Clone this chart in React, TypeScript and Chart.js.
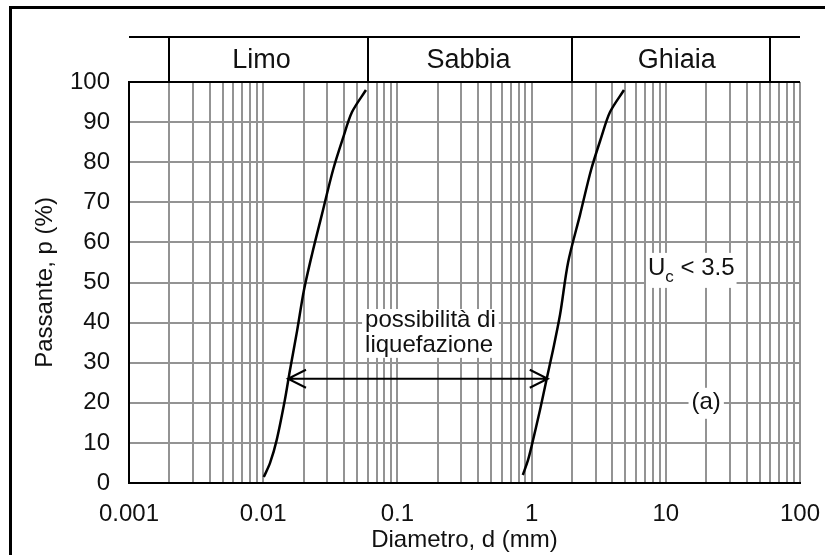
import React, { useEffect, useRef } from 'react';
import { Chart, registerables } from 'chart.js';

Chart.register(...registerables);

const FONT = "'Liberation Sans', Arial, Helvetica, sans-serif";

// Grain-size curves: diameter (mm) and percent passing
const curveA_d = [0.0101, 0.01125, 0.0126, 0.0145, 0.0158, 0.0179, 0.0201, 0.0231, 0.0274, 0.0331, 0.0393, 0.0459, 0.0583];
const curveA_p = [1.5, 5, 10.7, 20.7, 28, 38, 48, 57, 67, 78, 86, 92.5, 98];
const curveB_d = [0.86, 0.94, 1.0, 1.155, 1.29, 1.44, 1.63, 1.87, 2.3, 2.77, 3.29, 3.84, 4.88];
const curveB_p = [2, 5.7, 9.2, 18.2, 25.7, 33, 42, 55, 67, 78, 86, 92.5, 98];

// Axis ticks
const xDecades = [0.001, 0.01, 0.1, 1, 10, 100];
const xDecadeLabels = ['0.001', '0.01', '0.1', '1', '10', '100'];
const xMultipliers = [1, 2, 3, 4, 5, 6, 7, 8, 9];
const yMin = 0;
const yMax = 100;
const yStep = 10;

// Soil class band
const bandEdges = [0.002, 0.06, 2, 60];
const bandNames = ['Limo', 'Sabbia', 'Ghiaia'];
const bandLabelAt = [0.0097, 0.339, 12.05];

// Arrow (liquefaction range)
const arrowP = 26;
const arrowFrom = 0.0153;
const arrowTo = 1.32;

// Annotations
const liqLines = ['possibilità di', 'liquefazione'];
const liqAt = { d: 0.0574, p: [38.9, 32.7] };
const ucMain = 'U';
const ucSub = 'c';
const ucRest = ' < 3.5';
const ucAt = { d: 7.37, p: 51.9 };
const aLabel = '(a)';
const aAt = { d: 20, p: 20 };

const xTitle = 'Diametro, d (mm)';
const yTitle = 'Passante, p (%)';

const overlay = {
  id: 'overlay',
  afterDraw(chart: any) {
    const { ctx, chartArea: ca, scales } = chart;
    const x = scales.x;
    const y = scales.y;
    ctx.save();

    // Band box
    const bandTop = ca.top - 45;
    ctx.strokeStyle = '#000';
    ctx.lineWidth = 2;
    ctx.beginPath();
    ctx.moveTo(ca.left, bandTop);
    ctx.lineTo(ca.right, bandTop);
    ctx.moveTo(ca.left, ca.top);
    ctx.lineTo(ca.right, ca.top);
    bandEdges.forEach((e) => {
      const px = Math.round(x.getPixelForValue(e));
      ctx.moveTo(px, bandTop);
      ctx.lineTo(px, ca.top);
    });
    ctx.stroke();
    ctx.fillStyle = '#111';
    ctx.font = `27px ${FONT}`;
    ctx.textAlign = 'center';
    ctx.textBaseline = 'middle';
    bandNames.forEach((n, i) => {
      ctx.fillText(n, x.getPixelForValue(bandLabelAt[i]), (bandTop + ca.top) / 2 + 1);
    });

    // Arrow
    const ay = y.getPixelForValue(arrowP);
    const ax1 = x.getPixelForValue(arrowFrom);
    const ax2 = x.getPixelForValue(arrowTo);
    ctx.lineWidth = 2;
    ctx.beginPath();
    ctx.moveTo(ax1, ay);
    ctx.lineTo(ax2, ay);
    ctx.moveTo(ax1 + 18, ay - 9);
    ctx.lineTo(ax1, ay);
    ctx.lineTo(ax1 + 18, ay + 9);
    ctx.moveTo(ax2 - 18, ay - 9);
    ctx.lineTo(ax2, ay);
    ctx.lineTo(ax2 - 18, ay + 9);
    ctx.stroke();

    // Liquefaction text
    ctx.font = `24px ${FONT}`;
    ctx.textAlign = 'left';
    ctx.textBaseline = 'alphabetic';
    const lx = x.getPixelForValue(liqAt.d);
    const ly1 = y.getPixelForValue(liqAt.p[0]);
    const ly2 = y.getPixelForValue(liqAt.p[1]);
    const lw = Math.max(...liqLines.map((s) => ctx.measureText(s).width));
    ctx.fillStyle = '#fff';
    ctx.fillRect(lx - 3, ly1 - 18, lw + 6, ly2 - ly1 + 24);
    ctx.fillStyle = '#111';
    ctx.fillText(liqLines[0], lx, ly1);
    ctx.fillText(liqLines[1], lx, ly2);

    // Uc < 3.5
    const ux = x.getPixelForValue(ucAt.d);
    const uy = y.getPixelForValue(ucAt.p);
    ctx.font = `24px ${FONT}`;
    const wU = ctx.measureText(ucMain).width;
    ctx.font = `17px ${FONT}`;
    const wC = ctx.measureText(ucSub).width;
    ctx.font = `24px ${FONT}`;
    const wR = ctx.measureText(ucRest).width;
    ctx.fillStyle = '#fff';
    ctx.fillRect(ux - 2, uy - 22, wU + wC + wR + 4, 35);
    ctx.fillStyle = '#111';
    ctx.fillText(ucMain, ux, uy);
    ctx.font = `17px ${FONT}`;
    ctx.fillText(ucSub, ux + wU, uy + 7);
    ctx.font = `24px ${FONT}`;
    ctx.fillText(ucRest, ux + wU + wC, uy);

    // (a)
    const axp = x.getPixelForValue(aAt.d);
    const ayp = y.getPixelForValue(aAt.p);
    const wa = ctx.measureText(aLabel).width;
    ctx.fillStyle = '#fff';
    ctx.fillRect(axp - wa / 2 - 3, ayp - 15, wa + 6, 31);
    ctx.fillStyle = '#111';
    ctx.textAlign = 'center';
    ctx.textBaseline = 'middle';
    ctx.fillText(aLabel, axp, ayp);

    // Outer frame
    ctx.strokeStyle = '#000';
    ctx.lineWidth = 3;
    ctx.beginPath();
    ctx.moveTo(10.5, chart.height);
    ctx.lineTo(10.5, 7.5);
    ctx.lineTo(chart.width, 7.5);
    ctx.stroke();

    ctx.restore();
  },
};

export default function App() {
  const ref = useRef<HTMLCanvasElement>(null);
  useEffect(() => {
    const tickValues: number[] = [];
    xDecades.forEach((dec, i) => {
      if (i === xDecades.length - 1) {
        tickValues.push(dec);
      } else {
        xMultipliers.forEach((m) => tickValues.push(+(dec * m).toPrecision(6)));
      }
    });
    const chart = new Chart(ref.current as HTMLCanvasElement, {
      type: 'line',
      data: {
        datasets: [
          {
            data: curveA_d.map((d, i) => ({ x: d, y: curveA_p[i] })),
            borderColor: '#000',
            borderWidth: 2.5,
            pointRadius: 0,
            tension: 0.3,
            fill: false,
          },
          {
            data: curveB_d.map((d, i) => ({ x: d, y: curveB_p[i] })),
            borderColor: '#000',
            borderWidth: 2.5,
            pointRadius: 0,
            tension: 0.3,
            fill: false,
          },
        ],
      },
      options: {
        animation: false,
        responsive: false,
        maintainAspectRatio: false,
        layout: { padding: { left: 0, top: 82, right: 25, bottom: 0 } },
        plugins: { legend: { display: false }, tooltip: { enabled: false } },
        scales: {
          x: {
            type: 'logarithmic',
            min: xDecades[0],
            max: xDecades[xDecades.length - 1],
            afterBuildTicks: (s: any) => {
              s.ticks = tickValues.map((v) => ({ value: v }));
            },
            afterFit: (s: any) => {
              s.height = 72;
              s.paddingLeft = 0;
              s.paddingRight = 0;
            },
            ticks: {
              autoSkip: false,
              maxRotation: 0,
              padding: 17,
              color: '#111',
              font: { family: FONT, size: 24 },
              callback: (v: any) => {
                const idx = xDecades.findIndex((d) => Math.abs(d - Number(v)) / d < 1e-6);
                return idx >= 0 ? xDecadeLabels[idx] : '';
              },
            },
            grid: { color: '#939393', lineWidth: 2, drawTicks: false },
            border: { display: true, color: '#000', width: 2 },
            title: {
              display: true,
              text: xTitle,
              color: '#111',
              font: { family: FONT, size: 24 },
              padding: { top: 0, bottom: 0 },
            },
          },
          y: {
            min: yMin,
            max: yMax,
            afterFit: (s: any) => {
              s.width = 129;
              s.paddingTop = 0;
              s.paddingBottom = 0;
            },
            ticks: {
              stepSize: yStep,
              padding: 19,
              color: '#111',
              font: { family: FONT, size: 24 },
            },
            grid: { color: '#939393', lineWidth: 2, drawTicks: false },
            border: { display: true, color: '#000', width: 2 },
            title: {
              display: true,
              text: yTitle,
              color: '#111',
              font: { family: FONT, size: 24 },
              padding: { top: 31, bottom: 0 },
            },
          },
        },
      },
      plugins: [overlay],
    } as any);
    return () => chart.destroy();
  }, []);
  return (
    <div style={{ position: 'fixed', left: 0, top: 0, width: 825, height: 555, background: '#fff' }}>
      <canvas ref={ref} width={825} height={555} style={{ display: 'block', width: 825, height: 555 }} />
    </div>
  );
}
